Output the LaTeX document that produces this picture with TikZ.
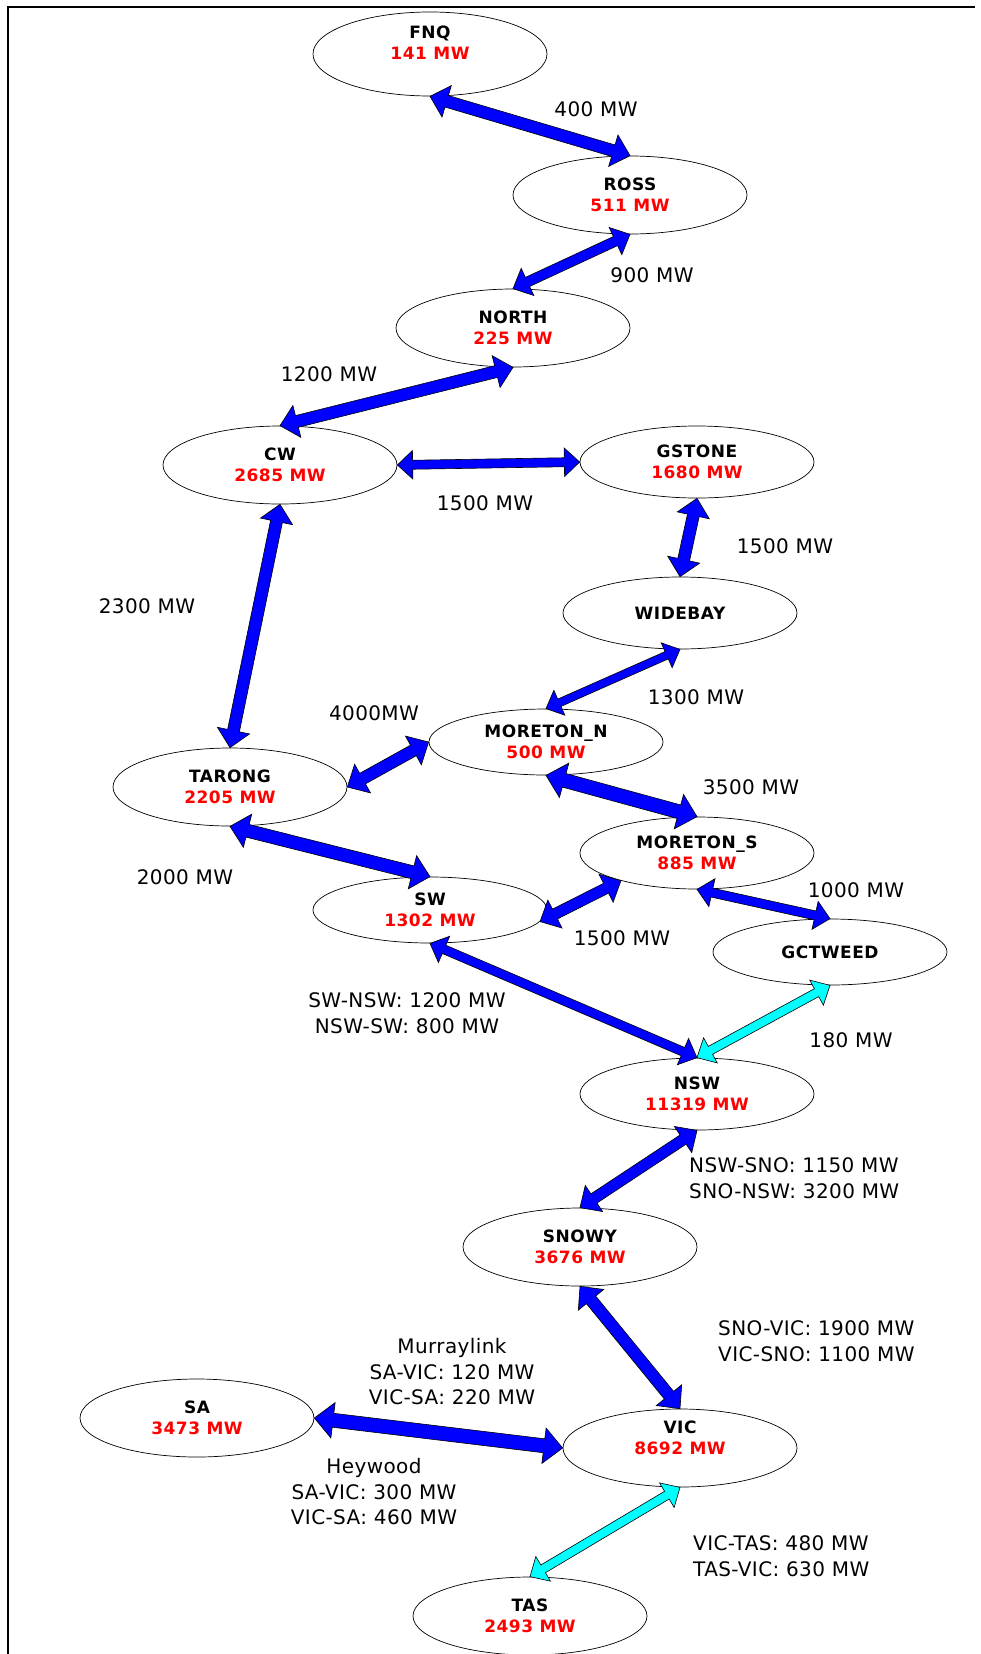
\documentclass[tikz,border=0pt]{standalone}
\usepackage{fontspec}
\usetikzlibrary{calc,shapes.geometric}
\newfontfamily\dvname[LetterSpace=3]{DejaVu Sans}
\newfontfamily\dvlab[LetterSpace=2]{DejaVu Sans}
\definecolor{flowblue}{RGB}{0,0,255}
\definecolor{flowcyan}{RGB}{0,255,255}
\definecolor{mwred}{RGB}{255,0,0}
\newcommand\flowarrow[4]{%
  \pgfmathsetmacro\arrW{#4/2}%
  \pgfmathsetmacro\arrH{0.7*#4+8}%
  \pgfmathsetmacro\arrL{0.7*#4+9}%
  \path (#2) coordinate (aa) (#3) coordinate (bb);
  \coordinate (p1) at ($(aa)!\arrL pt!(bb)$);
  \coordinate (p2) at ($(bb)!\arrL pt!(aa)$);
  \draw[#1] (aa) -- ($(p1)!\arrH pt!90:(bb)$) -- ($(p1)!\arrW pt!90:(bb)$)
    -- ($(p2)!\arrW pt!-90:(aa)$) -- ($(p2)!\arrH pt!-90:(aa)$) -- (bb)
    -- ($(p2)!\arrH pt!90:(aa)$) -- ($(p2)!\arrW pt!90:(aa)$)
    -- ($(p1)!\arrW pt!-90:(bb)$) -- ($(p1)!\arrH pt!-90:(bb)$) -- cycle;
}
\tikzset{
  region/.style={ellipse, draw=black, line width=0.7pt, fill=white, inner sep=0pt,
    minimum width=234pt, minimum height=78pt, align=center,
    font=\dvname\fontsize{17}{21}\selectfont\bfseries},
  rmid/.style={region, minimum height=72pt},
  rlow/.style={region, minimum height=66pt},
  rtall/.style={region, minimum height=84pt},
  bluearrow/.style={fill=flowblue, draw=black, line width=0.6pt, line join=miter},
  cyanarrow/.style={fill=flowcyan, draw=black, line width=0.6pt, line join=miter},
  lab/.style={inner sep=0pt, align=center, font=\dvlab\fontsize{20}{25.5}\selectfont},
  lableft/.style={lab, align=left, anchor=west},
}
\newcommand\mw[1]{\textcolor{mwred}{#1}}
\begin{document}
\begin{tikzpicture}[x=1pt,y=-1pt]
\useasboundingbox (0,0) rectangle (981,1654);
\fill[white] (0,0) rectangle (981,1654);
\draw[line width=2pt] (975,7) -- (8,7) -- (8,1654);

\node[rtall, text depth=22pt] (FNQ) at (430,54) {FNQ\\\mw{141 MW}};
\node[region] (ROSS)   at (630,195)  {ROSS\\\mw{511 MW}};
\node[region] (NORTH)  at (513,328)  {NORTH\\\mw{225 MW}};
\node[region] (CW)     at (280,465)  {CW\\\mw{2685 MW}};
\node[rmid]   (GSTONE) at (697,462)  {GSTONE\\\mw{1680 MW}};
\node[rmid]   (WIDEBAY) at (680,613) {WIDEBAY};
\node[rlow]   (MN)     at (546,742)  {MORETON\_N\\\mw{500 MW}};
\node[region] (TARONG) at (230,787)  {TARONG\\\mw{2205 MW}};
\node[rmid]   (MS)     at (697,853)  {MORETON\_S\\\mw{885 MW}};
\node[rlow]   (SW)     at (430,910)  {SW\\\mw{1302 MW}};
\node[rlow]   (GCT)    at (830,952)  {GCTWEED};
\node[rmid]   (NSW)    at (697,1094) {NSW\\\mw{11319 MW}};
\node[region] (SNOWY)  at (580,1247) {SNOWY\\\mw{3676 MW}};
\node[region] (SA)     at (197,1418) {SA\\\mw{3473 MW}};
\node[region, text depth=20pt] (VIC) at (680,1448) {VIC\\\mw{8692 MW}};
\node[region] (TAS)    at (530,1616) {TAS\\\mw{2493 MW}};

\flowarrow{bluearrow}{FNQ.south}{ROSS.north}{12}
\flowarrow{bluearrow}{ROSS.south}{NORTH.north}{10}
\flowarrow{bluearrow}{NORTH.south}{CW.north}{12}
\flowarrow{bluearrow}{CW.east}{GSTONE.west}{9}
\flowarrow{bluearrow}{GSTONE.south}{WIDEBAY.north}{12}
\flowarrow{bluearrow}{CW.south}{TARONG.north}{12}
\flowarrow{bluearrow}{WIDEBAY.south}{MN.north}{8}
\flowarrow{bluearrow}{TARONG.east}{MN.west}{12}
\flowarrow{bluearrow}{MN.south}{MS.north}{14}
\flowarrow{bluearrow}{TARONG.south}{SW.north}{13}
\flowarrow{bluearrow}{SW.-6}{MS.-160}{11}
\flowarrow{bluearrow}{MS.south}{GCT.north}{9}
\flowarrow{bluearrow}{SW.south}{NSW.north}{9}
\flowarrow{cyanarrow}{GCT.south}{NSW.north}{9}
\flowarrow{bluearrow}{NSW.south}{SNOWY.north}{11}
\flowarrow{bluearrow}{SNOWY.south}{VIC.north}{12}
\flowarrow{bluearrow}{SA.east}{VIC.west}{14}
\flowarrow{cyanarrow}{VIC.south}{TAS.north}{9}

\node[lab] (l1)  at (596,109)  {400 MW};
\node[lab] (l2)  at (652,275)  {900 MW};
\node[lab] (l3)  at (329,374)  {1200 MW};
\node[lab] (l4)  at (485,503)  {1500 MW};
\node[lab] (l5)  at (785,546)  {1500 MW};
\node[lab] (l6)  at (147,606)  {2300 MW};
\node[lab] (l7)  at (696,697)  {1300 MW};
\node[lab] (l8)  at (374,713)  {4000MW};
\node[lab] (l9)  at (751,787)  {3500 MW};
\node[lab] (l10) at (185,877)  {2000 MW};
\node[lab] (l11) at (622,938)  {1500 MW};
\node[lab] (l12) at (856,890)  {1000 MW};
\node[lab] (l13) at (407,1013) {SW-NSW: 1200 MW\\NSW-SW: 800 MW};
\node[lab] (l14) at (851,1040) {180 MW};
\node[lableft] (l15) at (689,1178) {NSW-SNO: 1150 MW\\SNO-NSW: 3200 MW};
\node[lableft] (l16) at (718,1341) {SNO-VIC: 1900 MW\\VIC-SNO: 1100 MW};
\node[lab] (l17) at (452,1372) {Murraylink\\SA-VIC: 120 MW\\VIC-SA: 220 MW};
\node[lab] (l18) at (374,1492) {Heywood\\SA-VIC: 300 MW\\VIC-SA: 460 MW};
\node[lableft] (l19) at (693,1556) {VIC-TAS: 480 MW\\TAS-VIC: 630 MW};
\end{tikzpicture}
\end{document}
